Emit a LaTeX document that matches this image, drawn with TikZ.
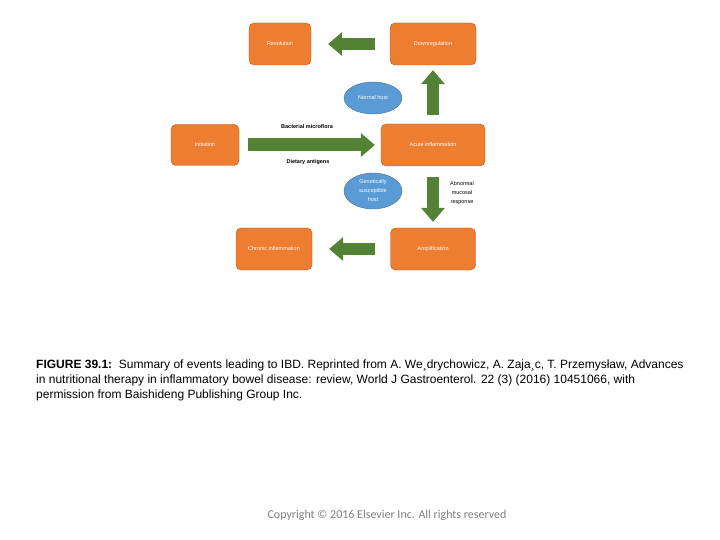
\documentclass[tikz,border=0pt]{standalone}
\usepackage{fontspec}
\setmainfont{Liberation Sans}
\newfontfamily\copyfont{Carlito}
\usetikzlibrary{arrows.meta,shapes.geometric}
\definecolor{boxorange}{RGB}{237,125,49}
\definecolor{boxedge}{RGB}{174,90,33}
\definecolor{arrowgreen}{RGB}{84,130,53}
\definecolor{hostblue}{RGB}{91,155,213}
\definecolor{hostedge}{RGB}{65,113,156}
\begin{document}
\begin{tikzpicture}[x=1pt, y=-1pt,
	stage/.style={draw=boxedge, fill=boxorange, rounded corners=5pt, minimum height=42pt, text=white, font=\fontsize{5.5}{6}\selectfont},
	host/.style={ellipse, draw=hostedge, fill=hostblue, inner sep=0pt, text=white, align=center, font=\fontsize{5.5}{9}\selectfont},
	flow/.style={draw=arrowgreen, line width=12pt, -{Triangle[width=24pt, length=14pt, line width=0pt]}}]
	\useasboundingbox (0,0) rectangle (720,540);
	\node[stage, minimum width=62pt] (res) at (280,44) {Resolution};
	\node[stage, minimum width=86pt] (down) at (433,44) {Downregulation};
	\node[stage, minimum width=68pt, minimum height=41pt] (init) at (205,145) {Initiation};
	\node[stage, minimum width=104pt] (acute) at (433,145) {Acute inflammation};
	\node[stage, minimum width=76pt] (chronic) at (274,249) {Chronic inflammation};
	\node[stage, minimum width=85pt] (amp) at (433,249) {Amplification};
	\node[host, minimum width=58pt, minimum height=32pt] (normal) at (373,98) {Normal host};
	\node[host, minimum width=58pt, minimum height=36pt] (genetic) at (373,191) {Genetically\\susceptible\\host};
	\draw[flow, shorten <=15pt, shorten >=17pt] (down.west) -- (res.east);
	\draw[flow, shorten <=9pt, shorten >=5pt] (acute.north) -- (down.south);
	\draw[flow, line width=13pt, shorten <=9pt, shorten >=6pt] (init.east) -- (acute.west);
	\draw[flow, shorten <=11pt, shorten >=6pt] (acute.south) -- (amp.north);
	\draw[flow, shorten <=15pt, shorten >=17pt] (amp.west) -- (chronic.east);
	\node[font=\fontsize{5.5}{6}\selectfont\bfseries] (micro) at (307,127) {Bacterial microflora};
	\node[font=\fontsize{5.5}{6}\selectfont\bfseries] (diet) at (308,162) {Dietary antigens};
	\node[align=center, font=\fontsize{5.5}{9}\selectfont] (abnormal) at (462,193) {Abnormal\\mucosal\\response};
	\node[anchor=north west, align=left, inner sep=0pt, font=\fontsize{12}{15}\selectfont] (caption) at (36,360) {\textbf{FIGURE 39.1:}\ \ Summary of events leading to IBD. Reprinted from A. We¸drychowicz, A. Zaja¸c, T. Przemysław, Advances\\in nutritional therapy in inflammatory bowel disease: review, World J Gastroenterol. 22 (3) (2016) 10451066, with\\permission from Baishideng Publishing Group Inc.};
	\node[text=gray, font=\copyfont\fontsize{12}{12}\selectfont] (copy) at (387,515) {Copyright © 2016 Elsevier Inc. All rights reserved};
\end{tikzpicture}
\end{document}
